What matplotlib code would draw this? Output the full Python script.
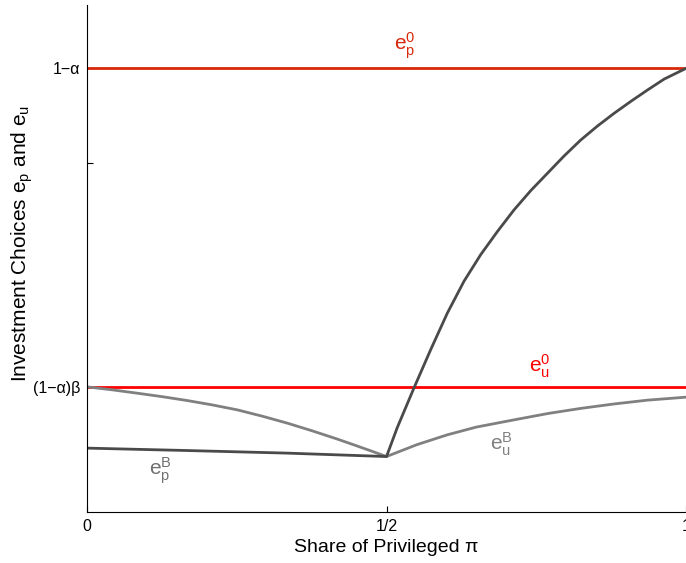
import matplotlib
matplotlib.use('Agg')
import matplotlib.pyplot as plt

plt.rcParams['font.family'] = ['Liberation Sans', 'DejaVu Sans']
plt.rcParams['mathtext.fontset'] = 'custom'
plt.rcParams['mathtext.rm'] = 'Liberation Sans'
plt.rcParams['mathtext.it'] = 'Liberation Sans'

# data (y in arbitrary units)
ep0_level = 0.8
eu0_level = 0.298

# e_p^B: flat segment on the left, steep rise on the right
epB_x = [0.0, 0.1672, 0.3344, 0.5, 0.5179, 0.5457, 0.5736, 0.6015, 0.6293, 0.6572,
         0.6851, 0.7129, 0.7408, 0.7687, 0.7965, 0.8244, 0.8523, 0.8801, 0.9080,
         0.9359, 0.9637, 1.0]
epB_y = [0.2008, 0.1970, 0.1929, 0.1875, 0.2330, 0.2954, 0.3558, 0.4137, 0.4640, 0.5060,
         0.5425, 0.5767, 0.6071, 0.6345, 0.6618, 0.6871, 0.7091, 0.7292, 0.7480,
         0.7660, 0.7832, 0.8]

# e_u^B: declining to 1/2, then rising
euB_x = [0.0, 0.0418, 0.0836, 0.1254, 0.1672, 0.2090, 0.2508, 0.2926, 0.3344, 0.3762,
         0.4181, 0.4460, 0.4738, 0.5, 0.55, 0.6015, 0.65, 0.7129, 0.77, 0.8244,
         0.88, 0.9359, 1.0]
euB_y = [0.2975, 0.2928, 0.2875, 0.2820, 0.2759, 0.2690, 0.2612, 0.2512, 0.2402, 0.2280,
         0.2150, 0.2058, 0.1965, 0.1875, 0.2060, 0.2218, 0.2340, 0.2454, 0.2555, 0.2635,
         0.2705, 0.2765, 0.2812]

x_ticks = [0, 0.5, 1]
x_labels = ['0', '1/2', '1']
y_ticks = [eu0_level, 0.651, ep0_level]
y_labels = ['(1\u2212\u03b1)\u03b2', '', '1\u2212\u03b1']

fig = plt.figure(figsize=(6.86, 5.63), dpi=100)
ax = fig.add_axes([87 / 686, 51 / 563, 599 / 686, 507 / 563])

ax.plot([0, 1], [ep0_level, ep0_level], color='#d8280a', lw=2.0)
ax.plot([0, 1], [eu0_level, eu0_level], color='#ff0000', lw=2.0)
ax.plot(euB_x, euB_y, color='#808080', lw=2.0)
ax.plot(epB_x, epB_y, color='#4a4a4a', lw=2.0)

ax.text(0.53, 0.835, r'$\mathregular{e_p^0}$', color='#d8280a', fontsize=15, ha='center', va='center')
ax.text(0.755, 0.330, r'$\mathregular{e_u^0}$', color='#ff0000', fontsize=15, ha='center', va='center')
ax.text(0.692, 0.207, r'$\mathregular{e_u^B}$', color='#808080', fontsize=15, ha='center', va='center')
ax.text(0.122, 0.165, r'$\mathregular{e_p^B}$', color='#707070', fontsize=15, ha='center', va='center')

ax.set_xlim(0, 1)
ax.set_ylim(0.1, 0.9)
ax.set_xticks(x_ticks)
ax.set_xticklabels(x_labels)
ax.set_yticks(y_ticks)
ax.set_yticklabels(y_labels)
ax.tick_params(direction='in', length=4, labelsize=11.5, pad=5)

ax.spines['top'].set_visible(False)
ax.spines['right'].set_visible(False)

ax.set_xlabel('Share of Privileged \u03c0', fontsize=14, labelpad=4)
ax.set_ylabel(r'Investment Choices $\mathregular{e_p}$ and $\mathregular{e_u}$', fontsize=15)
ax.yaxis.set_label_coords(-0.086, 0.53)

fig.savefig('out.png', dpi=100)
